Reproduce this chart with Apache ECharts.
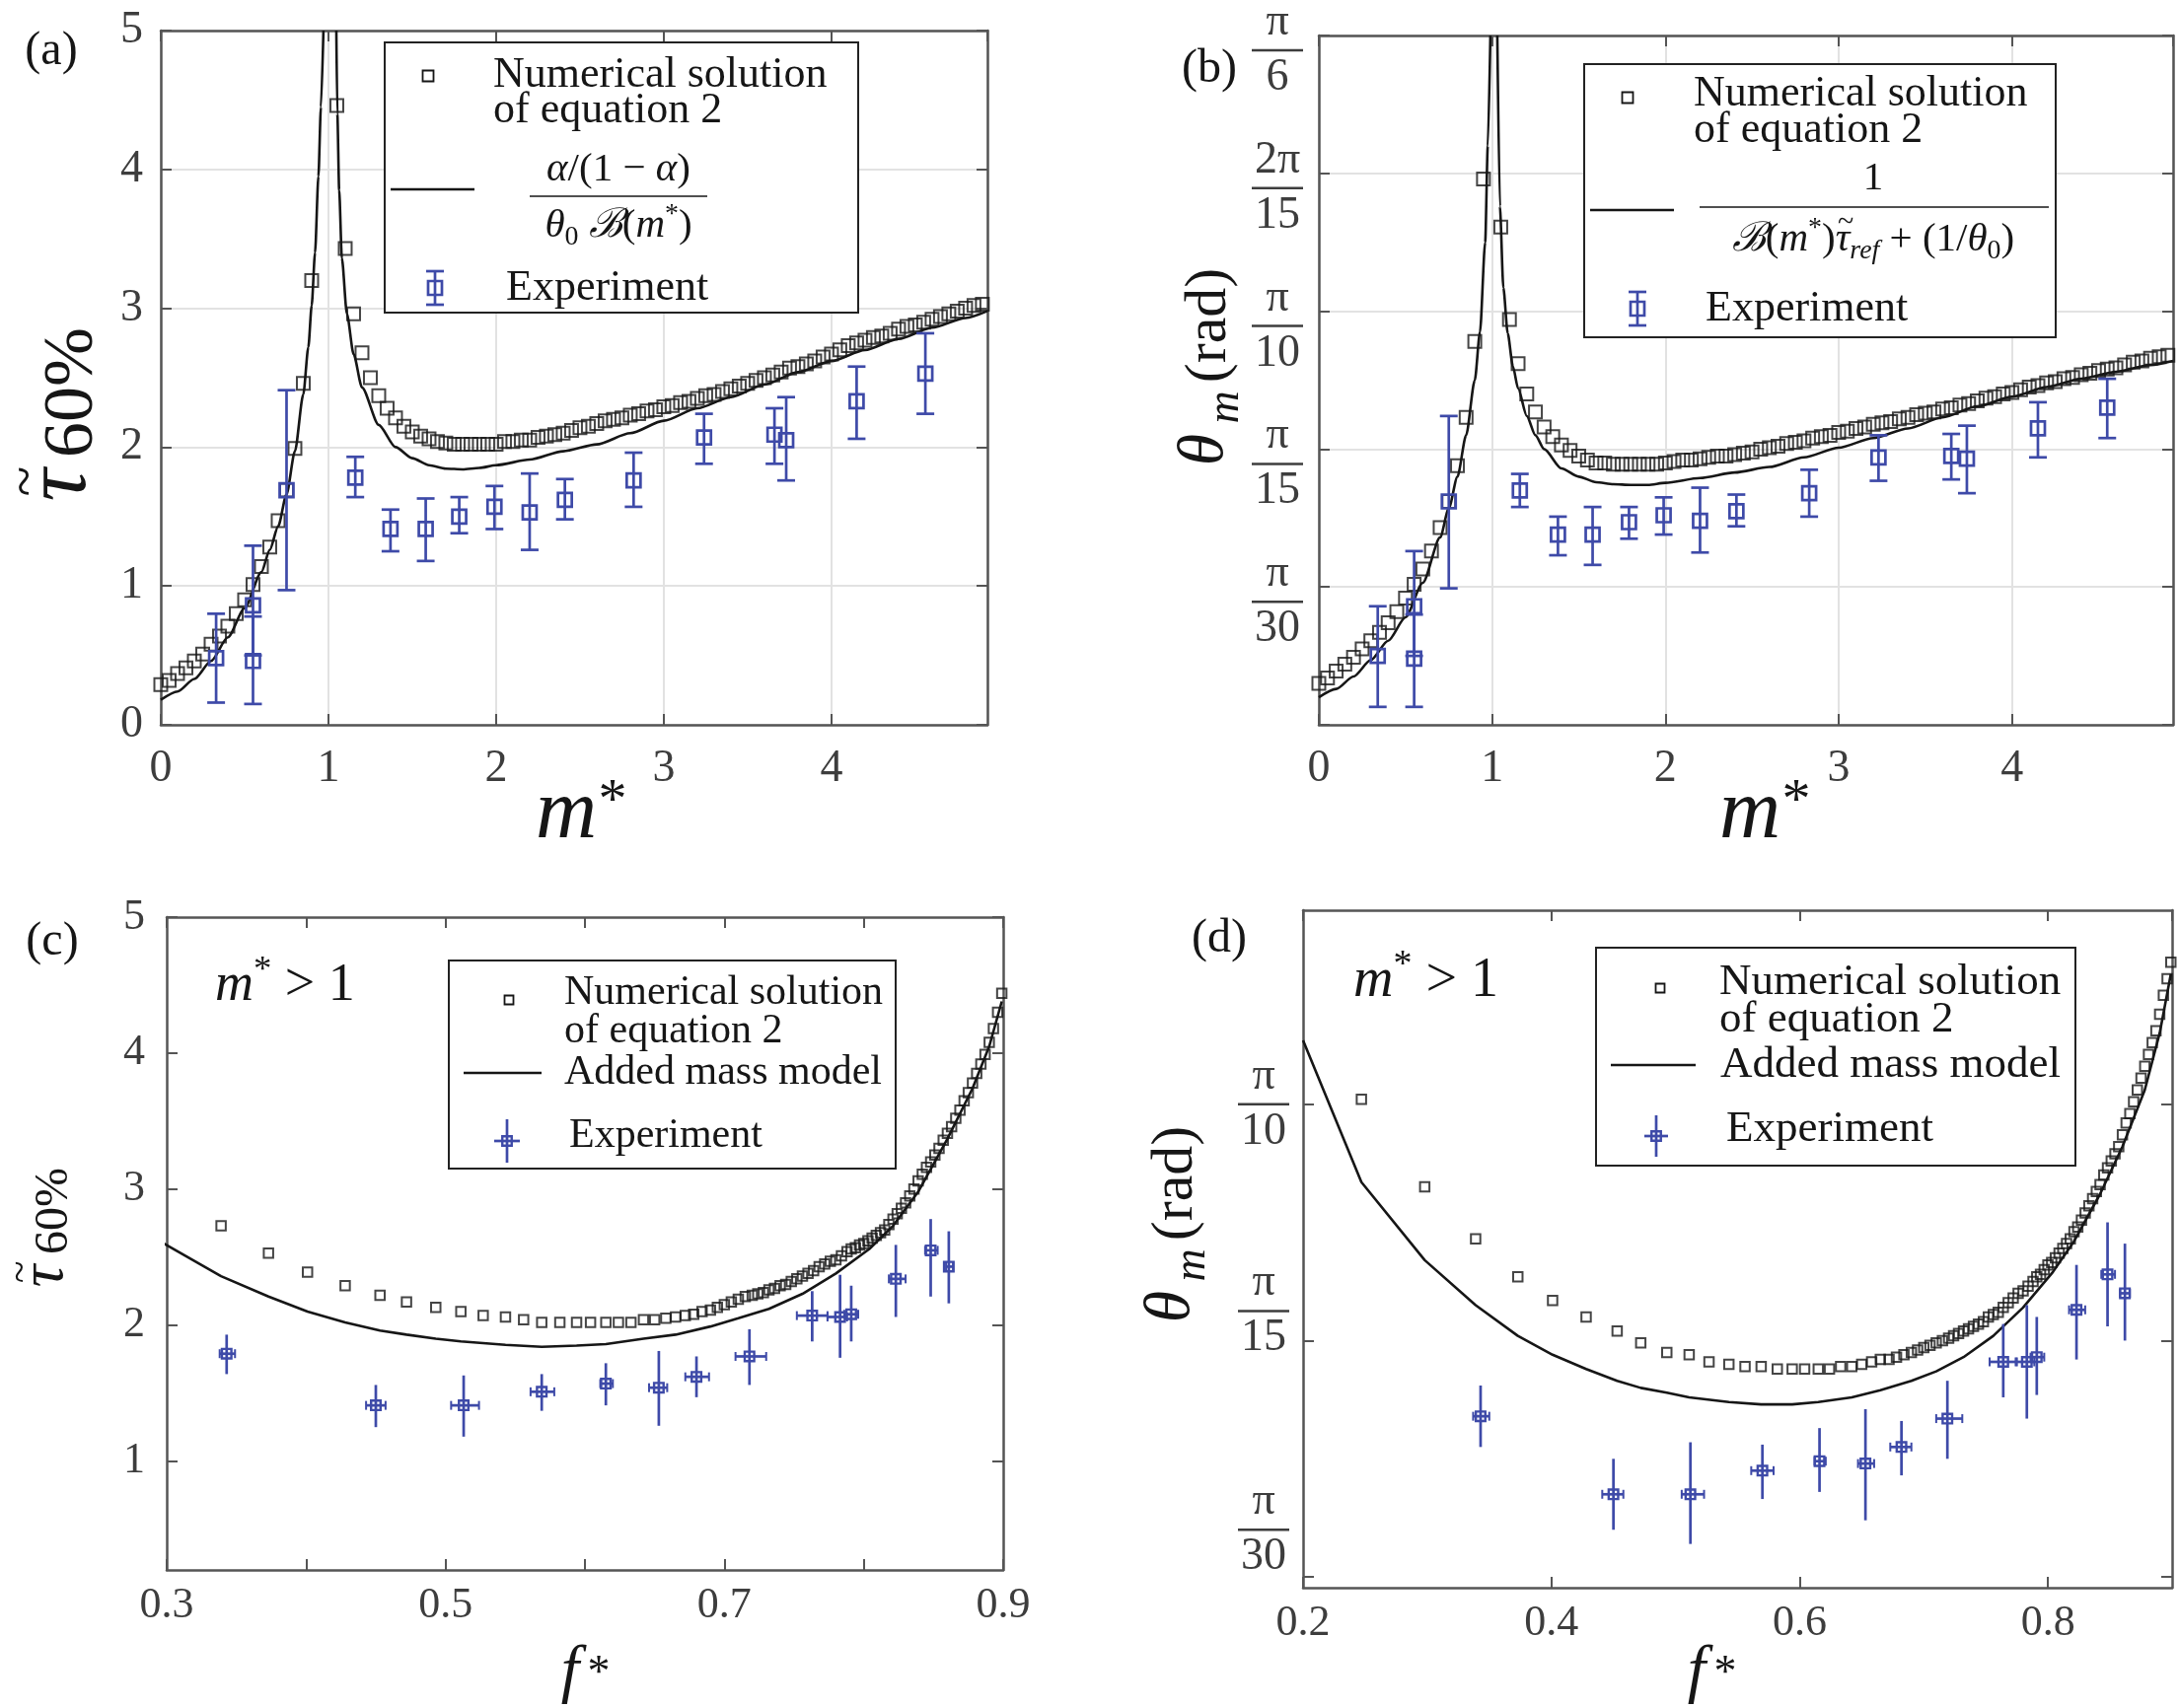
<!DOCTYPE html>
<html><head><meta charset="utf-8">
<script src="https://cdn.jsdelivr.net/npm/echarts@6.0.0/dist/echarts.min.js"></script>
<style>html,body{margin:0;padding:0;background:#fff;}#chart{width:2209px;height:1732px;}</style>
</head><body><div id="chart"></div>
<script>
// ================= DATA =================
// Panels (a),(b): m* grid of the numerical solution of equation 2
const mStar_num = [0,0.05,0.1,0.15,0.2,0.25,0.3,0.35,0.4,0.45,0.5,0.55,0.6,0.65,0.7,0.75,0.8,0.85,0.9,0.95,1,1.05,1.1,1.15,1.2,1.25,1.3,1.35,1.4,1.45,1.5,1.55,1.6,1.65,1.7,1.75,1.8,1.85,1.9,1.95,2,2.05,2.1,2.15,2.2,2.25,2.3,2.35,2.4,2.45,2.5,2.55,2.6,2.65,2.7,2.75,2.8,2.85,2.9,2.95,3,3.05,3.1,3.15,3.2,3.25,3.3,3.35,3.4,3.45,3.5,3.55,3.6,3.65,3.7,3.75,3.8,3.85,3.9,3.95,4,4.05,4.1,4.15,4.2,4.25,4.3,4.35,4.4,4.45,4.5,4.55,4.6,4.65,4.7,4.75,4.8,4.85,4.9];
// (a) tau_60% (null = off the chart)
const tauA_num = [0.29,0.32,0.37,0.41,0.46,0.51,0.58,0.64,0.71,0.80, 0.90,1.01,1.14,1.28,1.47,1.69,1.99,2.46,3.20,null, null,4.46,3.43,2.96,2.68,2.50,2.37,2.28,2.21,2.15, 2.11,2.08,2.06,2.04,2.03,2.02,2.02,2.02,2.02,2.02, 2.02,2.04,2.04,2.05,2.05,2.07,2.08,2.09,2.10,2.12, 2.14,2.15,2.17,2.19,2.20,2.21,2.23,2.24,2.26,2.27, 2.29,2.30,2.32,2.33,2.35,2.37,2.38,2.40,2.42,2.44, 2.46,2.48,2.50,2.52,2.54,2.57,2.58,2.60,2.62,2.65, 2.67,2.70,2.73,2.75,2.77,2.79,2.80,2.82,2.85,2.87, 2.88,2.90,2.92,2.94,2.96,2.98,3.00,3.02,3.03];
// (b) theta_m, in units of pi/30 rad
const thetaB_num = [0.30,0.34,0.39,0.44,0.49,0.55,0.61,0.67,0.74,0.82, 0.92,1.02,1.13,1.26,1.43,1.62,1.88,2.23,2.78,3.96, null,3.61,2.94,2.62,2.40,2.27,2.16,2.09,2.03,1.99, 1.95,1.92,1.90,1.90,1.89,1.89,1.89,1.89,1.89,1.89, 1.90,1.91,1.92,1.92,1.93,1.94,1.95,1.95,1.96,1.97, 1.98,2.00,2.01,2.02,2.04,2.05,2.06,2.08,2.09,2.10, 2.12,2.13,2.15,2.16,2.18,2.19,2.20,2.22,2.23,2.25, 2.26,2.27,2.29,2.30,2.32,2.33,2.35,2.37,2.38,2.40, 2.41,2.43,2.45,2.46,2.48,2.49,2.51,2.52,2.54,2.55, 2.57,2.58,2.59,2.61,2.63,2.64,2.66,2.67,2.68];

// (a) model curve alpha/(1-alpha)/(theta0 B(m*)) (null = asymptote break)
const mStar_lineA = [0,0.1,0.2,0.3,0.4,0.5,0.6,0.65,0.7,0.75,0.8,0.85,0.88,0.9,0.92,0.94,0.955,0.97,1.0,1.047,1.053,1.064,1.08,1.11,1.15,1.2,1.3,1.4,1.5,1.6,1.7,1.8,1.9,2.0,2.2,2.4,2.6,2.8,3.0,3.2,3.4,3.6,3.8,4.0,4.2,4.4,4.6,4.8,4.93];
const tauA_line   = [0.18,0.24,0.33,0.46,0.63,0.84,1.10,1.26,1.43,1.66,1.97,2.38,2.72,3.02,3.40,3.95,4.45,5.00,null,5.00,4.40,3.85,3.36,2.96,2.67,2.43,2.16,2.00,1.92,1.87,1.845,1.84,1.85,1.87,1.91,1.97,2.02,2.10,2.19,2.28,2.36,2.45,2.54,2.62,2.70,2.78,2.86,2.93,2.98];
// (b) model curve 1/(B(m*) tau_ref + 1/theta0), units of pi/30 rad
const mStar_lineB = [0,0.1,0.2,0.3,0.4,0.5,0.6,0.7,0.75,0.8,0.85,0.9,0.93,0.96,0.975,0.99,1.0,1.03,1.045,1.065,1.09,1.12,1.15,1.2,1.25,1.3,1.4,1.5,1.6,1.7,1.8,1.9,2.0,2.2,2.4,2.6,2.8,3.0,3.2,3.4,3.6,3.8,4.0,4.2,4.4,4.6,4.8,4.93];
const thetaB_line = [0.20,0.26,0.35,0.47,0.61,0.78,1.03,1.36,1.57,1.80,2.10,2.50,2.85,3.50,4.20,5.00,null,5.00,3.76,3.17,2.84,2.60,2.44,2.24,2.10,2.00,1.86,1.80,1.76,1.745,1.74,1.74,1.755,1.79,1.83,1.87,1.94,2.01,2.08,2.15,2.23,2.31,2.38,2.45,2.51,2.56,2.61,2.64];

// Experiments (a),(b)
const mStarA_exp = [0.33,0.55,0.55,0.75,1.16,1.37,1.58,1.78,1.99,2.20,2.41,2.82,3.24,3.66,3.73,4.15,4.56];
const tauA_exp   = [0.48,0.46,0.86,1.69,1.78,1.41,1.41,1.50,1.57,1.53,1.62,1.76,2.07,2.09,2.05,2.33,2.53];
const tauA_lo    = [0.16,0.15,0.50,0.97,1.64,1.25,1.18,1.38,1.41,1.26,1.48,1.57,1.88,1.88,1.76,2.06,2.24];
const tauA_hi    = [0.80,0.78,1.29,2.41,1.93,1.55,1.63,1.64,1.72,1.81,1.77,1.96,2.24,2.28,2.36,2.58,2.82];
const mStarB_exp = [0.34,0.55,0.55,0.75,1.16,1.38,1.58,1.79,1.99,2.20,2.41,2.83,3.23,3.65,3.74,4.15,4.55];
const thetaB_exp = [0.50,0.48,0.86,1.62,1.70,1.38,1.38,1.47,1.52,1.48,1.55,1.68,1.94,1.95,1.93,2.15,2.30];
const thetaB_lo  = [0.13,0.13,0.50,0.99,1.58,1.23,1.16,1.35,1.38,1.25,1.44,1.51,1.77,1.78,1.68,1.94,2.08];
const thetaB_hi  = [0.86,0.80,1.26,2.24,1.82,1.51,1.58,1.58,1.65,1.72,1.67,1.85,2.10,2.11,2.17,2.34,2.51];

// Panels (c),(d): f* grid of the numerical solution (m* > 1)
const fStar_num = [0.247,0.298,0.339,0.373,0.401,0.428,0.453,0.472,0.493,0.511, 0.527,0.543,0.556,0.569,0.582,0.594,0.604,0.615,0.624,0.633, 0.642,0.650,0.658,0.665,0.672,0.678,0.684,0.690,0.695,0.700, 0.705,0.710,0.715,0.720,0.724,0.728,0.732,0.736,0.740,0.744, 0.748,0.752,0.756,0.760,0.764,0.768,0.772,0.776,0.780,0.784, 0.788,0.791,0.794,0.797,0.800,0.803,0.806,0.809,0.812,0.815, 0.818,0.821,0.824,0.827,0.830,0.833,0.836,0.839,0.842,0.845, 0.848,0.851,0.854,0.857,0.860,0.863,0.866,0.869,0.872,0.875, 0.878,0.881,0.884,0.887,0.890,0.893,0.896,0.899];
const tauC_num = [null,null,2.73,2.53,2.39,2.29,2.22,2.17,2.13,2.10, 2.07,2.06,2.04,2.02,2.02,2.02,2.02,2.02,2.02,2.02, 2.04,2.04,2.05,2.06,2.07,2.08,2.10,2.11,2.13,2.15, 2.17,2.19,2.21,2.22,2.23,2.24,2.26,2.27,2.29,2.30, 2.32,2.34,2.36,2.38,2.40,2.43,2.45,2.47,2.48,2.51, 2.54,2.56,2.57,2.59,2.60,2.62,2.64,2.66,2.68,2.70, 2.74,2.78,2.82,2.86,2.90,2.95,3.00,3.06,3.11,3.16, 3.20,3.25,3.30,3.36,3.41,3.46,3.52,3.58,3.65,3.71, 3.78,3.85,3.92,3.99,4.08,4.18,4.30,4.44];
// (d) theta_m, units of pi/30 rad
const thetaD_num = [3.02,2.65,2.43,2.27,2.17,2.10,2.04,1.99,1.95,1.94, 1.91,1.90,1.89,1.89,1.88,1.88,1.88,1.88,1.88,1.89, 1.89,1.90,1.91,1.92,1.92,1.93,1.94,1.95,1.96,1.97, 1.98,1.99,2.00,2.01,2.02,2.03,2.04,2.05,2.06,2.07, 2.08,2.10,2.11,2.12,2.14,2.16,2.18,2.20,2.21,2.23, 2.25,2.27,2.28,2.30,2.32,2.33,2.35,2.37,2.39,2.41, 2.43,2.46,2.48,2.51,2.54,2.57,2.60,2.63,2.66,2.70, 2.73,2.76,2.79,2.82,2.87,2.92,2.96,3.01,3.06,3.11, 3.16,3.21,3.26,3.31,3.38,3.46,3.53,3.60];

// Added mass model
const fStarC_line = [0.298,0.339,0.373,0.401,0.428,0.453,0.472,0.493,0.511,0.543,0.569,0.594,0.615,0.642,0.665,0.690,0.710,0.732,0.756,0.780,0.804,0.821,0.839,0.860,0.878,0.890,0.899];
const tauC_line   = [2.60,2.36,2.21,2.10,2.02,1.96,1.93,1.90,1.88,1.855,1.84,1.85,1.86,1.90,1.93,1.99,2.05,2.12,2.23,2.38,2.56,2.73,2.98,3.37,3.74,4.05,4.38];
const fStarD_line = [0.200,0.247,0.298,0.339,0.373,0.401,0.428,0.453,0.472,0.493,0.511,0.543,0.569,0.594,0.615,0.642,0.665,0.690,0.710,0.732,0.756,0.780,0.804,0.821,0.842,0.860,0.878,0.890,0.899];
const thetaD_line = [3.27,2.67,2.34,2.15,2.02,1.94,1.88,1.83,1.80,1.78,1.76,1.74,1.73,1.73,1.74,1.76,1.79,1.83,1.87,1.93,2.02,2.14,2.29,2.42,2.62,2.82,3.06,3.30,3.55];

// Experiments (c),(d)
const fStarC_exp = [0.343,0.450,0.513,0.569,0.615,0.653,0.680,0.718,0.763,0.783,0.791,0.823,0.848,0.861];
const fStarC_lo  = [0.338,0.443,0.504,0.561,0.611,0.646,0.672,0.708,0.752,0.774,0.786,0.818,0.844,0.859];
const fStarC_hi  = [0.349,0.457,0.524,0.578,0.620,0.659,0.689,0.730,0.774,0.788,0.796,0.830,0.853,0.864];
const tauC_exp   = [1.79,1.41,1.41,1.51,1.57,1.54,1.62,1.77,2.07,2.06,2.08,2.34,2.55,2.43];
const tauC_lo    = [1.64,1.25,1.18,1.37,1.41,1.26,1.47,1.56,1.88,1.76,1.88,2.06,2.21,2.16];
const tauC_hi    = [1.93,1.56,1.63,1.64,1.72,1.81,1.77,1.97,2.25,2.37,2.29,2.59,2.78,2.69];
const fStarD_exp = [0.343,0.450,0.512,0.570,0.616,0.653,0.682,0.719,0.764,0.783,0.791,0.823,0.848,0.862];
const fStarD_lo  = [0.337,0.441,0.505,0.561,0.612,0.647,0.673,0.710,0.753,0.774,0.786,0.817,0.843,0.858];
const fStarD_hi  = [0.350,0.458,0.523,0.579,0.621,0.660,0.690,0.731,0.775,0.789,0.797,0.830,0.854,0.866];
const thetaD_exp = [1.68,1.35,1.35,1.45,1.49,1.48,1.55,1.67,1.91,1.91,1.93,2.13,2.28,2.20];
const thetaD_lo  = [1.55,1.20,1.14,1.33,1.36,1.24,1.43,1.50,1.76,1.67,1.77,1.92,2.06,2.00];
const thetaD_hi  = [1.81,1.50,1.57,1.56,1.63,1.71,1.66,1.83,2.07,2.15,2.10,2.32,2.50,2.41];

// Tick values / labels
const ticksC_y = [1,2,3,4,5];
const labelsC_x = [0.3,0.5,0.7,0.9];
const ticksD_y = [1,2,3];
const piTickNum = ['π','π','π','2π','π'];      // k = 1..5 (k·π/30)
const piTickDen = ['30','15','10','15','6'];

// ================= STYLE / BUILD =================
const SERIF = '"Liberation Serif", "DejaVu Serif", serif';
const BLUE = '#3e4aa8', INK = '#161616', AXC = '#555555', TICKC = '#3d3d3d', GRIDC = '#e2e2e2';

const grids = [
  {left:163, top:31, width:838, height:704},
  {left:1337, top:31, width:866, height:704},
  {left:169, top:930, width:848, height:662},
  {left:1321, top:923, width:881, height:687}
];

const xAxis = [], yAxis = [];
function addAxes(gi, xc, yc) {
  const base = c => {
    const tick = {show:true, inside:true, length:11, lineStyle:{color:AXC, width:2}};
    if (c.ticks) tick.customValues = c.ticks;
    const o = {gridIndex:gi, type:'value', min:c.min, max:c.max,
      axisLine:{show:true, onZero:false, lineStyle:{color:AXC, width:2.5}},
      axisTick:tick, splitLine:{show:false}};
    if (c.interval !== undefined) o.interval = c.interval;
    return o;
  };
  const lab = c => {
    const l = {show:true, fontSize:c.fs, fontFamily:SERIF, color:TICKC, margin:c.margin};
    if (c.labels) l.customValues = c.labels;
    if (c.fmt) l.formatter = c.fmt;
    if (c.rich) l.rich = c.rich;
    if (c.pad) l.padding = c.pad;
    if (c.noMax) l.showMaxLabel = false;
    return l;
  };
  xAxis.push(Object.assign(base(xc), {position:'bottom', axisLabel:lab(xc), splitLine:{show:!!xc.grid, lineStyle:{color:GRIDC, width:2}}}));
  xAxis.push(Object.assign(base(xc), {position:'top', axisLabel:{show:false}}));
  yAxis.push(Object.assign(base(yc), {position:'left', axisLabel:lab(yc), splitLine:{show:!!yc.grid, lineStyle:{color:GRIDC, width:2}}}));
  yAxis.push(Object.assign(base(yc), {position:'right', axisLabel:{show:false}}));
}
const fracStyle = {fontSize:46, fontFamily:SERIF, color:TICKC, align:'center', lineHeight:46};
const fracRich = {
  n:fracStyle, d:fracStyle,
  b:{width:52, height:2.5, lineHeight:10, backgroundColor:TICKC, align:'center', fontSize:4},
  up1:{fontSize:4, lineHeight:96, align:'center'},
  up2:{fontSize:4, lineHeight:60, align:'center'}
};
const fracFmtB = v => { const k = Math.round(v); if (k < 1 || k > 5 || Math.abs(v-k) > 1e-6) return ''; return '{n|' + piTickNum[k-1] + '}\n{b| }\n{d|' + piTickDen[k-1] + '}'; };
// panel (d): the reference's fraction labels sit slightly above the lower ticks
const fracFmtD = v => { const k = Math.round(v); if (k < 1 || k > 3 || Math.abs(v-k) > 1e-6) return '';
  const s = '{n|' + piTickNum[k-1] + '}\n{b| }\n{d|' + piTickDen[k-1] + '}';
  return k === 1 ? s + '\n{up1| }' : (k === 2 ? s + '\n{up2| }' : s); };
const intFmt = v => String(Math.round(v));
const f1Fmt = v => (Math.round(v*10)/10).toFixed(1);
const oddFmt = v => { const t = Math.round(v*10); return (t % 2 === 1) ? (t/10).toFixed(1) : ''; };

addAxes(0, {min:0, max:4.93, interval:1, fs:46, margin:22, grid:true, fmt:intFmt, noMax:true},
           {min:0, max:5, interval:1, fs:46, margin:18, grid:true, fmt:intFmt});
addAxes(1, {min:0, max:4.93, interval:1, fs:46, margin:22, grid:true, fmt:intFmt, noMax:true},
           {min:0, max:5, interval:1, fs:46, margin:16, grid:true, fmt:fracFmtB, rich:fracRich, pad:[30,0,0,0]});
addAxes(2, {min:0.3, max:0.9, interval:0.1, fs:44, margin:14, labels:labelsC_x, fmt:oddFmt},
           {min:0.2, max:5, ticks:ticksC_y, labels:ticksC_y, fs:44, margin:22, fmt:intFmt});
addAxes(3, {min:0.2, max:0.9, interval:0.2, fs:44, margin:14, fmt:f1Fmt, noMax:true},
           {min:0.955, max:3.82, ticks:ticksD_y, labels:ticksD_y, fs:46, margin:14, fmt:fracFmtD, rich:fracRich});

const series = [];
function sqSeries(gi, xs, ys, size) {
  series.push({type:'scatter', xAxisIndex:2*gi, yAxisIndex:2*gi, symbol:'rect', symbolSize:size, silent:true, z:3,
    data: xs.map((x,i) => [x, ys[i]]).filter(d => d[1] !== null),
    itemStyle:{color:'rgba(0,0,0,0)', borderColor:INK, borderWidth:2}});
}
function lineSeries(gi, xs, ys, smooth) {
  series.push({type:'line', xAxisIndex:2*gi, yAxisIndex:2*gi, showSymbol:false, symbol:'none', silent:true, z:4,
    smooth:smooth, smoothMonotone:'x', connectNulls:false, clip:true,
    data: xs.map((x,i) => [x, ys[i] === null ? '-' : ys[i]]),
    lineStyle:{color:INK, width:2.6}});
}
function capRender(params, api) {
  const x = api.value(0), y = api.value(1), lo = api.value(2), hi = api.value(3);
  const p = api.coord([x,y]), pl = api.coord([x,lo]), ph = api.coord([x,hi]);
  const s = 7, cap = 9, st = {stroke:BLUE, lineWidth:2.7, fill:null};
  return {type:'group', children:[
    {type:'line', shape:{x1:p[0], y1:pl[1], x2:p[0], y2:ph[1]}, style:st},
    {type:'line', shape:{x1:p[0]-cap, y1:pl[1], x2:p[0]+cap, y2:pl[1]}, style:st},
    {type:'line', shape:{x1:p[0]-cap, y1:ph[1], x2:p[0]+cap, y2:ph[1]}, style:st},
    {type:'rect', shape:{x:p[0]-s, y:p[1]-s, width:2*s, height:2*s}, style:{stroke:BLUE, lineWidth:2.7, fill:'none'}}
  ]};
}
function crossRender(params, api) {
  const x = api.value(0), y = api.value(1), lo = api.value(2), hi = api.value(3), xl = api.value(4), xh = api.value(5);
  const p = api.coord([x,y]), pl = api.coord([x,lo]), ph = api.coord([x,hi]), pxl = api.coord([xl,y]), pxh = api.coord([xh,y]);
  const s = 4.8, c = 4.5, st = {stroke:BLUE, lineWidth:2.7, fill:null};
  return {type:'group', children:[
    {type:'line', shape:{x1:p[0], y1:pl[1], x2:p[0], y2:ph[1]}, style:st},
    {type:'line', shape:{x1:pxl[0], y1:p[1], x2:pxh[0], y2:p[1]}, style:st},
    {type:'line', shape:{x1:pxl[0], y1:p[1]-c, x2:pxl[0], y2:p[1]+c}, style:{stroke:BLUE, lineWidth:2}},
    {type:'line', shape:{x1:pxh[0], y1:p[1]-c, x2:pxh[0], y2:p[1]+c}, style:{stroke:BLUE, lineWidth:2}},
    {type:'rect', shape:{x:p[0]-s, y:p[1]-s, width:2*s, height:2*s}, style:{stroke:BLUE, lineWidth:2.4, fill:'none'}}
  ]};
}
function errSeries(gi, data, render) {
  series.push({type:'custom', xAxisIndex:2*gi, yAxisIndex:2*gi, renderItem:render, data:data, silent:true, z:5, clip:true, encode:{x:0, y:1}});
}

// (a)
sqSeries(0, mStar_num, tauA_num, 13);
lineSeries(0, mStar_lineA, tauA_line, 0.25);
errSeries(0, mStarA_exp.map((m,i) => [m, tauA_exp[i], tauA_lo[i], tauA_hi[i]]), capRender);
// (b)
sqSeries(1, mStar_num, thetaB_num, 13);
lineSeries(1, mStar_lineB, thetaB_line, 0.25);
errSeries(1, mStarB_exp.map((m,i) => [m, thetaB_exp[i], thetaB_lo[i], thetaB_hi[i]]), capRender);
// (c)
sqSeries(2, fStar_num, tauC_num, 9.5);
lineSeries(2, fStarC_line, tauC_line, false);
errSeries(2, fStarC_exp.map((f,i) => [f, tauC_exp[i], tauC_lo[i], tauC_hi[i], fStarC_lo[i], fStarC_hi[i]]), crossRender);
// (d)
sqSeries(3, fStar_num, thetaD_num, 9.5);
lineSeries(3, fStarD_line, thetaD_line, false);
errSeries(3, fStarD_exp.map((f,i) => [f, thetaD_exp[i], thetaD_lo[i], thetaD_hi[i], fStarD_lo[i], fStarD_hi[i]]), crossRender);

// ================= TEXT / LEGENDS (graphic) =================
const G = [];
function txt(x, y, text, o) {
  o = o || {};
  const st = {text:text, fontSize:o.fs || 42, fontFamily:o.ff || SERIF, fontStyle:o.it ? 'italic' : 'normal',
    fill:o.color || INK, align:o.align || 'left', verticalAlign:o.va || 'middle'};
  if (o.rich) st.rich = o.rich;
  G.push({type:'text', x:x, y:y, rotation:o.rot || 0, z:200, silent:true, style:st});
}
function gline(x1, y1, x2, y2, w, color) {
  G.push({type:'line', z:190, silent:true, shape:{x1:x1, y1:y1, x2:x2, y2:y2}, style:{stroke:color || INK, lineWidth:w || 2.6}});
}
function gbox(x, y, w, h) {
  G.push({type:'rect', z:180, silent:true, shape:{x:x, y:y, width:w, height:h}, style:{fill:'#fff', stroke:'#222', lineWidth:2}});
}
function gsq(cx, cy, s, color, lw) {
  G.push({type:'rect', z:195, silent:true, shape:{x:cx-s/2, y:cy-s/2, width:s, height:s}, style:{fill:'none', stroke:color, lineWidth:lw}});
}
const SCRIPT = '"DejaVu Serif", serif';
const RM = fs => ({
  n:{fontSize:fs, fontFamily:SERIF, fill:INK, color:INK, lineHeight:fs*1.25},
  i:{fontSize:fs, fontFamily:SERIF, fontStyle:'italic', fill:INK, color:INK, lineHeight:fs*1.25},
  s:{fontSize:fs, fontFamily:SCRIPT, fontStyle:'italic', fill:INK, color:INK, lineHeight:fs*1.25},
  sub:{fontSize:fs*0.68, fontFamily:SERIF, fill:INK, color:INK, lineHeight:fs*0.7, verticalAlign:'bottom'},
  subi:{fontSize:fs*0.68, fontFamily:SERIF, fontStyle:'italic', fill:INK, color:INK, lineHeight:fs*0.7, verticalAlign:'bottom'},
  ast:{fontSize:fs*0.68, fontFamily:SERIF, fill:INK, color:INK, lineHeight:fs*0.95, verticalAlign:'top'}
});
const ROT = Math.PI/2;
const mctx = document.createElement('canvas').getContext('2d');
function tw(text, size, italic, fam) { mctx.font = (italic ? 'italic ' : 'normal ') + 'normal ' + size + 'px ' + (fam || SERIF); return mctx.measureText(text).width; }

// panel tags
txt(52, 52, '(a)', {fs:48, align:'center'});
txt(1226, 70, '(b)', {fs:48, align:'center'});
txt(53, 955, '(c)', {fs:48, align:'center'});
txt(1236, 952, '(d)', {fs:48, align:'center'});

// axis titles (a)
txt(28, 488, '~', {fs:56, align:'center', rot:ROT});
txt(62, 492, 'τ', {fs:92, it:true, align:'center', rot:ROT});
txt(74, 398, '60%', {fs:72, align:'center', rot:ROT});
txt(574, 826, 'm', {fs:86, it:true, align:'center'});
txt(621, 814, '*', {fs:58, align:'center'});
// (b)
txt(1222, 456, 'θ', {fs:66, it:true, align:'center', rot:ROT});
txt(1243, 413, 'm', {fs:46, it:true, align:'center', rot:ROT});
txt(1226, 330, '(rad)', {fs:60, align:'center', rot:ROT});
txt(1774, 826, 'm', {fs:86, it:true, align:'center'});
txt(1821, 814, '*', {fs:58, align:'center'});
// (c)
txt(22, 1290, '~', {fs:42, align:'center', rot:ROT});
txt(46, 1294, 'τ', {fs:64, it:true, align:'center', rot:ROT});
txt(55, 1228, '60%', {fs:48, align:'center', rot:ROT});
txt(578, 1697, 'f', {fs:66, it:true, align:'center'});
txt(607, 1698, '*', {fs:46, align:'center'});
// (d)
txt(1188, 1325, 'θ', {fs:66, it:true, align:'center', rot:ROT});
txt(1209, 1283, 'm', {fs:46, it:true, align:'center', rot:ROT});
txt(1192, 1200, '(rad)', {fs:60, align:'center', rot:ROT});
txt(1720, 1697, 'f', {fs:66, it:true, align:'center'});
txt(1749, 1698, '*', {fs:46, align:'center'});

// "m* > 1" annotations
txt(218, 1000, '{i|m}{ast|*}{n| > 1}', {rich:RM(54)});
txt(1372, 995, '{i|m}{ast|*}{n| > 1}', {rich:RM(56)});

// legend (a)
gbox(390, 43, 480, 274);
gsq(434, 77, 11, INK, 1.8);
txt(500, 76, 'Numerical solution', {fs:44});
txt(500, 112, 'of equation 2', {fs:44});
gline(396, 192, 481, 192, 2.6);
txt(627, 172, '{i|α}{n|/(1 − }{i|α}{n|)}', {align:'center', rich:RM(41)});
gline(537, 199, 717, 199, 1.6);
txt(627, 229, '{i|θ}{sub|0}{n| }{s|ℬ}{n|(}{i|m}{ast|*}{n|)}', {align:'center', rich:RM(41)});
gline(441, 275, 441, 309, 2.7, BLUE); gline(432, 275, 450, 275, 2.7, BLUE); gline(432, 309, 450, 309, 2.7, BLUE);
gsq(441, 292, 14, BLUE, 2.7);
txt(513, 292, 'Experiment', {fs:44});

// legend (b)
gbox(1606, 65, 478, 277);
gsq(1650, 99, 11, INK, 1.8);
txt(1717, 95, 'Numerical solution', {fs:44});
txt(1717, 132, 'of equation 2', {fs:44});
gline(1612, 213, 1697, 213, 2.6);
txt(1899, 181, '{n|1}', {align:'center', rich:RM(41)});
gline(1723, 210, 2077, 210, 1.6);
(function () {
  const fs = 41, sm = fs * 0.68;
  const pre = tw('ℬ', fs, true, SCRIPT) + tw('(', fs) + tw('m', fs, true) + tw('*', sm) + tw(')', fs);
  const wt = tw('τ', fs, true);
  const total = pre + wt + tw('ref', sm, true) + tw(' + (1/', fs) + tw('θ', fs, true) + tw('0', sm) + tw(')', fs);
  const left = 1899 - total / 2;
  txt(1899, 243, '{s|ℬ}{n|(}{i|m}{ast|*}{n|)}{i|τ}{subi|ref}{n| + (1/}{i|θ}{sub|0}{n|)}', {align:'center', rich:RM(fs)});
  txt(left + pre + wt / 2 + 3, 226, '~', {fs:30, align:'center'});
})();
gline(1660, 296, 1660, 330, 2.7, BLUE); gline(1651, 296, 1669, 296, 2.7, BLUE); gline(1651, 330, 1669, 330, 2.7, BLUE);
gsq(1660, 313, 14, BLUE, 2.7);
txt(1729, 313, 'Experiment', {fs:44});

// legend (c)
gbox(455, 974, 453, 211);
gsq(516, 1014, 9, INK, 1.8);
txt(572, 1007, 'Numerical solution', {fs:42});
txt(572, 1046, 'of equation 2', {fs:42});
gline(470, 1088, 549, 1088, 2.6);
txt(572, 1088, 'Added mass model', {fs:42});
gline(514, 1135, 514, 1179, 2.7, BLUE); gline(501, 1157, 527, 1157, 2.7, BLUE);
gsq(514, 1157, 9.5, BLUE, 2.4);
txt(577, 1152, 'Experiment', {fs:42});

// legend (d)
gbox(1618, 961, 486, 221);
gsq(1683, 1002, 9, INK, 1.8);
txt(1743, 996, 'Numerical solution', {fs:45});
txt(1743, 1034, 'of equation 2', {fs:45});
gline(1633, 1080, 1719, 1080, 2.6);
txt(1744, 1080, 'Added mass model', {fs:45});
gline(1679, 1131, 1679, 1173, 2.7, BLUE); gline(1667, 1152, 1691, 1152, 2.7, BLUE);
gsq(1679, 1152, 9.5, BLUE, 2.4);
txt(1750, 1145, 'Experiment', {fs:45});

const chart = echarts.init(document.getElementById('chart'), null, {renderer:'canvas', width:2209, height:1732});
chart.setOption({
  backgroundColor:'#ffffff',
  animation:false,
  grid: grids.map(g => Object.assign({containLabel:false, show:false}, g)),
  xAxis: xAxis,
  yAxis: yAxis,
  series: series,
  graphic: {elements: G}
});
</script>
</body></html>
